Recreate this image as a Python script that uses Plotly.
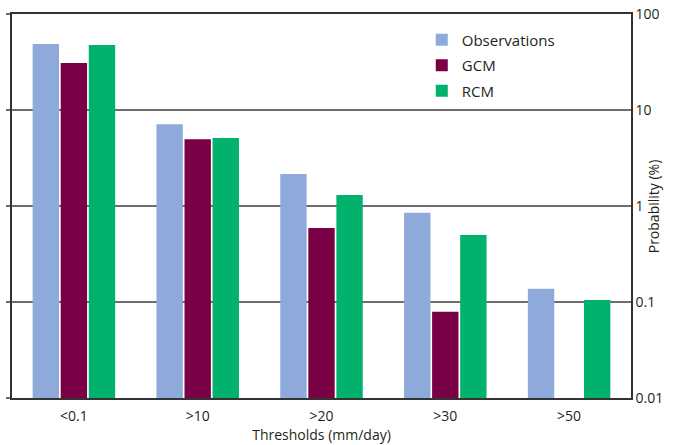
import plotly.graph_objects as go

categories = ["<0.1", ">10", ">20", ">30", ">50"]
observations = [48.6, 7.1, 2.15, 0.85, 0.137]
gcm = [30.8, 4.95, 0.59, 0.079, None]
rcm = [47.5, 5.1, 1.3, 0.50, 0.105]
y_ticks = [0.01, 0.1, 1, 10, 100]
y_ticklabels = ["0.01", "0.1", "1", "10", "100"]

FONT = "Open Sans"
fig = go.Figure()
fig.add_trace(go.Bar(name="Observations", x=categories, y=observations,
                     marker=dict(color="#8DAADA", line=dict(width=0)), legendgroup="a"))
fig.add_trace(go.Bar(name="GCM", x=categories, y=gcm,
                     marker=dict(color="#7A0045", line=dict(width=0)), legendgroup="b"))
fig.add_trace(go.Bar(name="RCM", x=categories, y=rcm,
                     marker=dict(color="#00B26B", line=dict(width=0)), legendgroup="c"))
# invisible trace on left axis for left-side ticks
fig.add_trace(go.Scatter(x=categories, y=observations, yaxis="y2", mode="markers",
                         marker=dict(opacity=0), showlegend=False, hoverinfo="skip"))

fig.update_layout(
    width=674, height=445,
    margin=dict(l=12, r=43, t=14, b=47),
    paper_bgcolor="white", plot_bgcolor="white",
    font=dict(family=FONT, size=14, color="#231F20"),
    barmode="group", bargap=0.32, bargroupgap=0.06,
    showlegend=True,
    legend=dict(x=0.662, y=0.975, xanchor="left", yanchor="top",
                bgcolor="rgba(0,0,0,0)", font=dict(size=15),
                tracegroupgap=3, itemwidth=30),
    xaxis=dict(showline=True, linecolor="#333333", linewidth=2, mirror=True,
               ticks="", showgrid=False, automargin=False,
               ticklabelstandoff=4,
               title=dict(text="Thresholds (mm/day)", font=dict(size=14), standoff=6),
               tickfont=dict(size=14)),
    yaxis=dict(type="log", range=[-2, 2], side="right", automargin=False,
               tickvals=y_ticks, ticktext=y_ticklabels, ticklabeloverflow="allow",
               showgrid=True, gridcolor="#6E6E6E", gridwidth=2,
               showline=True, linecolor="#333333", linewidth=1.5,
               ticks="", tickfont=dict(size=14)),
    yaxis2=dict(type="log", range=[-2, 2], side="left", overlaying="y",
                automargin=False,
                tickvals=y_ticks, showticklabels=False, ticks="outside",
                ticklen=4, tickwidth=2, tickcolor="#6E6E6E",
                showgrid=False, showline=True, linecolor="#333333", linewidth=2,
                zeroline=False),
    annotations=[dict(text="Probability (%)", textangle=-90, showarrow=False,
                      xref="paper", yref="paper", x=1.036, y=0.5,
                      xanchor="center", yanchor="middle", font=dict(size=14))],
)

fig.write_html("out.html", config={"displayModeBar": False},
               post_script="document.body.style.margin='0';")
